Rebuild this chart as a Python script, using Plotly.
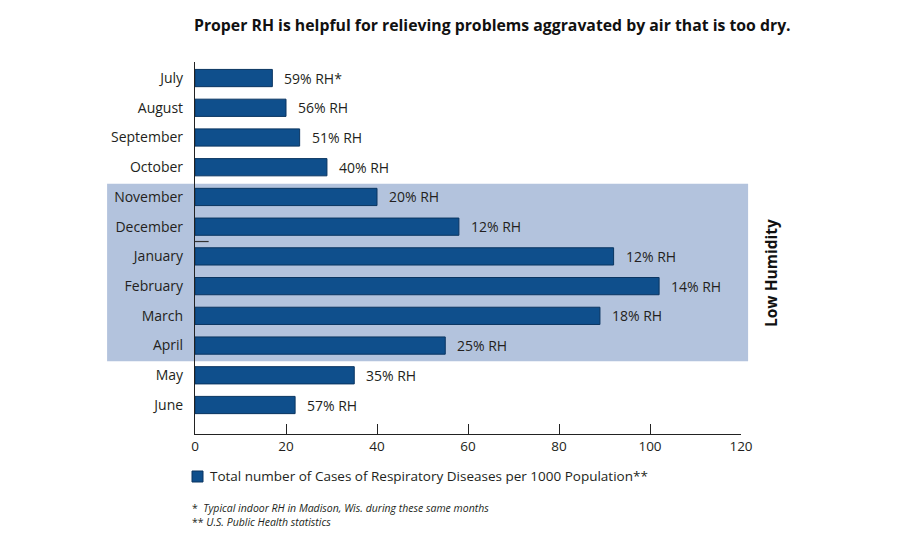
import plotly.graph_objects as go

months = ["July", "August", "September", "October", "November", "December",
          "January", "February", "March", "April", "May", "June"]
cases = [17, 20, 23, 29, 40, 58, 92, 102, 89, 55, 35, 22]
rh_labels = ["59% RH*", "56% RH", "51% RH", "40% RH", "20% RH", "12% RH",
             "12% RH", "14% RH", "18% RH", "25% RH", "35% RH", "57% RH"]
x_ticks = [0, 20, 40, 60, 80, 100, 120]
low_humidity_months = ["November", "April"]
legend_label = "Total number of Cases of Respiratory Diseases per 1000 Population**"

FONT = "'Open Sans', Lato, sans-serif"
BAR = "#0f4f8c"
TXT = "#231f20"

fig = go.Figure()
fig.add_trace(go.Bar(
    y=months, x=cases, orientation="h",
    marker=dict(color=BAR, line=dict(color="#0a3561", width=1)),
    width=0.58,
    name=legend_label,
    showlegend=False,
    hoverinfo="x+y",
))

annotations = []
for m, v, t in zip(months, cases, rh_labels):
    annotations.append(dict(x=v, y=m, xref="x", yref="y", text=t, showarrow=False,
                            xanchor="left", xshift=10, font=dict(size=14, color=TXT, family=FONT)))

annotations += [
    dict(x=0.544, y=1.0995, xref="paper", yref="paper", yanchor="middle", showarrow=False,
         text="<b>Proper RH is helpful for relieving problems aggravated by air that is too dry.</b>",
         font=dict(size=15.8, color="#111", family=FONT)),
    dict(x=1.0, y=0.5, xref="paper", yref="paper", showarrow=False, xshift=43, yshift=-25,
         text="<b>Low Humidity</b>", textangle=-90,
         font=dict(size=15.5, color="#111", family=FONT)),
    dict(x=0, y=0, xref="paper", yref="paper", showarrow=False, xanchor="left", yanchor="middle",
         xshift=13, yshift=-42, text=legend_label,
         font=dict(size=13.5, color=TXT, family=FONT)),
    dict(x=0, y=0, xref="paper", yref="paper", showarrow=False, xanchor="left", yanchor="top",
         xshift=-5, yshift=-65, align="left",
         text="*  <i>Typical indoor RH in Madison, Wis. during these same months</i><br>** <i>U.S. Public Health statistics</i>",
         font=dict(size=10.5, color=TXT, family=FONT)),
]

lo = months.index(low_humidity_months[0]) - 0.44
hi = months.index(low_humidity_months[1]) + 0.53
shapes = [
    dict(type="rect", xref="paper", yref="y", x0=-0.161, x1=1.013, y0=lo, y1=hi,
         fillcolor="#b3c3dd", line=dict(width=0), layer="below"),
    dict(type="line", xref="x", yref="y", x0=0, x1=3, y0=5.5, y1=5.5,
         line=dict(color="#333", width=1.2)),
    # legend swatch
    dict(type="rect", xref="paper", yref="paper",
         x0=-3 / 546, x1=8 / 546, y0=-48 / 372, y1=-37 / 372,
         fillcolor=BAR, line=dict(color="#0a3561", width=1)),
]

fig.update_layout(
    width=900, height=550,
    margin=dict(l=195, r=159, t=62, b=116),
    paper_bgcolor="white", plot_bgcolor="rgba(0,0,0,0)",
    font=dict(family=FONT, size=14, color=TXT),
    annotations=annotations, shapes=shapes,
    showlegend=False,
)
fig.update_xaxes(range=[0, 120], tickvals=x_ticks, showgrid=False, zeroline=False,
                 showline=True, linecolor="#222", linewidth=1.2,
                 ticks="inside", ticklen=10, tickcolor="#222",
                 tickfont=dict(size=13.5, color=TXT), fixedrange=True)
fig.update_yaxes(categoryorder="array", categoryarray=months,
                 range=[11.975, -0.54], showgrid=False, zeroline=False,
                 showline=True, linecolor="#222", linewidth=1.2,
                 ticks="", ticklabelstandoff=8,
                 tickfont=dict(size=14, color=TXT), fixedrange=True)

fig.write_html("out.html")
